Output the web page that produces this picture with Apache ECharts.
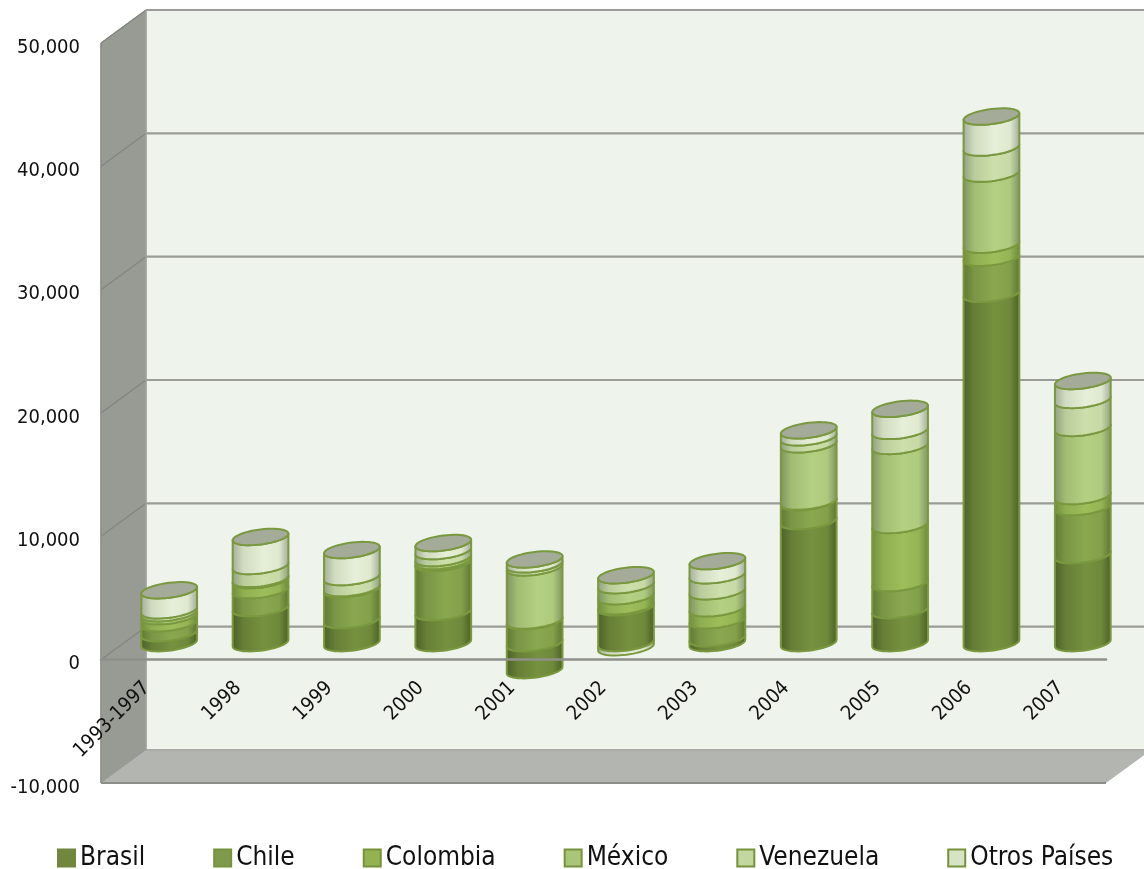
<!DOCTYPE html>
<html>
<head>
<meta charset="utf-8">
<style>html,body{margin:0;padding:0;background:#fff}#c{width:1144px;height:869px}</style>
<script src="https://cdn.jsdelivr.net/npm/echarts@6/dist/echarts.min.js"></script>
</head>
<body>
<div id="c"></div>
<script>
var categories = ['1993-1997','1998','1999','2000','2001','2002','2003','2004','2005','2006','2007'];
var brasil    = [810, 2840, 1870, 2520, -2190, 2920, 400, 9900, 2680, 28330, 7140];
var chile     = [810, 1460, 2520, 3980, 1790, 80, 1460, 1540, 2190, 2920, 3900];
var colombia  = [570, 810, 40, 160, 50, 810, 970, 50, 4710, 1060, 890];
var mexico    = [240, 100, 40, 240, 4300, 890, 1380, 4630, 6410, 5760, 5520];
var venezuela = [240, 1050, 890, 570, 250, 810, 1300, 570, 1220, 2110, 2270];
var otros     = [1620, 2350, 2190, 650, 400, -330, 1140, 570, 1790, 2520, 1540];
var seriesNames = ['Brasil','Chile','Colombia','México','Venezuela','Otros Países'];
var seriesValues = [brasil, chile, colombia, mexico, venezuela, otros];
var yTicks = [-10000, 0, 10000, 20000, 30000, 40000, 50000];

var legendFill = ['#72873e','#7f9a4c','#93b352','#a9c57a','#c2d7a0','#d6e3c4'];
var ramps = [
  ['#4c5f28','#667e36','#76913f','#6f893b','#4a5d26'],
  ['#5f7831','#7a9646','#8aa850','#83a04a','#5b7330'],
  ['#6f8d3b','#8fae52','#9dbe5a','#95b455','#6a8739'],
  ['#7e9163','#a0bd72','#b4d083','#aeca7d','#7d9062'],
  ['#909e80','#b9cc9b','#cde0ab','#c6d9a6','#8f9c80'],
  ['#a3ab97','#d0dcc0','#e6efd8','#dfe9cf','#a0a896']
];
var edge = '#7a983f';
var capFill = '#a4ab98';
var DX = 45, DY = -33;

function buildRows() {
  var pos = categories.map(function(){return 0;});
  var neg = categories.map(function(){return 0;});
  var topIdx = categories.map(function(_, c){
    var t = 0;
    seriesValues.forEach(function(s, i){ if (s[c] > 0) t = i; });
    return t;
  });
  return seriesValues.map(function(vals, si){
    return vals.map(function(v, c){
      var from, to;
      if (v >= 0) { from = pos[c]; to = from + v; pos[c] = to; }
      else { from = neg[c]; to = from + v; neg[c] = to; }
      return [c, to, from, topIdx[c] === si ? 1 : 0];
    });
  });
}
var rows = buildRows();

function ellipsePts(cx, cy, rx, ry, slope, a0, a1, n) {
  var pts = [];
  for (var i = 0; i <= n; i++) {
    var t = a0 + (a1 - a0) * i / n;
    var ex = rx * Math.cos(t);
    pts.push([cx + ex, cy + ry * Math.sin(t) + slope * ex]);
  }
  return pts;
}

function makeCylinder(si) {
  return function(params, api) {
    var c = api.value(0), a = api.value(1), b = api.value(2), isTop = api.value(3);
    var upper = Math.max(a, b), lower = Math.min(a, b);
    var pU = api.coord([c, upper]), pL = api.coord([c, lower]);
    var band = api.size([1, 0])[0];
    var rx = band * 0.305, ry = 7.5, slope = -0.12;
    var cx = pU[0] + DX / 2;
    var yU = pU[1] + DY / 2, yL = pL[1] + DY / 2;
    var arcU = ellipsePts(cx, yU, rx, ry, slope, Math.PI, 0, 24);
    var arcL = ellipsePts(cx, yL, rx, ry, slope, 0, Math.PI, 24);
    var r = ramps[si];
    var children = [{
      type: 'polygon',
      shape: { points: arcU.concat(arcL) },
      style: {
        fill: { type: 'linear', x: 0, y: 0, x2: 1, y2: 0, colorStops: [
          {offset: 0, color: r[0]}, {offset: 0.2, color: r[1]}, {offset: 0.55, color: r[2]},
          {offset: 0.82, color: r[3]}, {offset: 1, color: r[4]}
        ]},
        stroke: edge, lineWidth: 2, lineJoin: 'round'
      }
    }];
    if (isTop) {
      children.push({
        type: 'polygon',
        shape: { points: ellipsePts(cx, yU, rx, ry, slope, 0, Math.PI * 2, 48) },
        style: { fill: capFill, stroke: edge, lineWidth: 2, lineJoin: 'round' }
      });
    }
    return { type: 'group', children: children };
  };
}

function renderWalls(params, api) {
  var cs = params.coordSys;
  var x0 = cs.x, x1 = cs.x + cs.width;
  var top = api.coord([0, yTicks[yTicks.length - 1]])[1];
  var bot = api.coord([0, yTicks[0]])[1];
  var kids = [];
  kids.push({ type: 'polygon', shape: { points: [[x0 + DX, top + DY], [x1 + DX, top + DY], [x1 + DX, bot + DY], [x0 + DX, bot + DY]] },
    style: { fill: '#eef4eb' } });
  kids.push({ type: 'polygon', shape: { points: [[x0, top], [x0 + DX, top + DY], [x0 + DX, bot + DY], [x0, bot]] },
    style: { fill: '#989a94', stroke: '#8d8f8a', lineWidth: 1 } });
  kids.push({ type: 'polygon', shape: { points: [[x0, bot], [x0 + DX, bot + DY], [x1 + DX, bot + DY], [x1, bot]] },
    style: { fill: '#b3b5b0' } });
  yTicks.forEach(function(v, i) {
    var y = api.coord([0, v])[1];
    var col = '#9a9c97';
    if (i > 0) {
      kids.push({ type: 'line', shape: { x1: x0, y1: y, x2: x0 + DX, y2: y + DY }, style: { stroke: '#82847f', lineWidth: 1.2 } });
    }
    kids.push({ type: 'line', shape: { x1: x0 + DX, y1: y + DY, x2: x1 + DX, y2: y + DY }, style: { stroke: i === 0 ? '#a9aba6' : col, lineWidth: 2.2 } });
  });
  kids.push({ type: 'line', shape: { x1: x0 + DX, y1: top + DY, x2: x0 + DX, y2: bot + DY }, style: { stroke: '#a3a5a0', lineWidth: 1.5 } });
  kids.push({ type: 'line', shape: { x1: x0, y1: bot, x2: x1, y2: bot }, style: { stroke: '#8c8e89', lineWidth: 2 } });
  kids.push({ type: 'line', shape: { x1: x0, y1: top, x2: x0, y2: bot }, style: { stroke: '#8f918c', lineWidth: 1.5 } });
  return { type: 'group', children: kids };
}

var FONT = '"DejaVu Sans Condensed","DejaVu Sans",sans-serif';
var series = [{
  type: 'custom', name: 'walls', z: 1, silent: true, clip: false,
  renderItem: renderWalls, data: [[0, 0]], encode: { x: 0, y: 1 }, tooltip: { show: false }
}];
seriesNames.forEach(function(n, i) {
  series.push({
    type: 'custom', name: n, z: 3, clip: false,
    itemStyle: { color: legendFill[i] },
    renderItem: makeCylinder(i), data: rows[i],
    encode: { x: 0, y: 1 }
  });
});

var chart = echarts.init(document.getElementById('c'), null, { renderer: 'canvas' });
chart.setOption({
  animation: false,
  backgroundColor: '#ffffff',
  grid: { left: 101, right: 38, top: 43, bottom: 86, containLabel: false, outerBoundsMode: 'none' },
  legend: {
    left: 52, top: 840, itemWidth: 17, itemHeight: 17, itemGap: 68, icon: 'rect',
    textStyle: { fontFamily: FONT, fontSize: 26, color: '#111' },
    data: seriesNames.map(function(n, i) {
      return { name: n, itemStyle: { color: legendFill[i], borderColor: i === 0 ? legendFill[0] : '#76933c', borderWidth: 2 } };
    })
  },
  xAxis: {
    type: 'category', data: categories, z: 5,
    axisLine: { show: true, onZero: true, lineStyle: { color: '#8e908b', width: 2.5 } },
    axisTick: { show: false },
    axisLabel: { rotate: 45, margin: -98, interval: 0, fontFamily: FONT, fontSize: 20, color: '#111' }
  },
  yAxis: {
    type: 'value', min: yTicks[0], max: yTicks[yTicks.length - 1], interval: 10000, z: 5,
    axisLine: { show: false }, axisTick: { show: false }, splitLine: { show: false },
    axisLabel: { margin: 21, fontFamily: FONT, fontSize: 20, color: '#111', verticalAlign: 'top', lineHeight: 9 }
  },
  series: series
});
</script>
</body>
</html>
